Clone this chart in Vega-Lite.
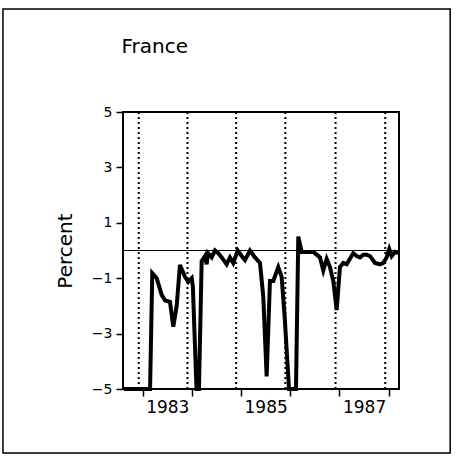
{
  "$schema": "https://vega.github.io/schema/vega-lite/v6.json",
  "width": 276,
  "height": 277,
  "autosize": {"type": "none"},
  "padding": {"left": 123, "top": 112, "right": 58, "bottom": 69},
  "background": "white",
  "datasets": {
    "series": [
      {"t": 1982.62, "v": -5}, {"t": 1983.15, "v": -5}, {"t": 1983.195, "v": -0.82}, {"t": 1983.285, "v": -1.0},
      {"t": 1983.386, "v": -1.6}, {"t": 1983.453, "v": -1.8}, {"t": 1983.555, "v": -1.85}, {"t": 1983.622, "v": -2.75},
      {"t": 1983.691, "v": -2.0}, {"t": 1983.758, "v": -0.52}, {"t": 1983.86, "v": -0.95}, {"t": 1983.927, "v": -1.13},
      {"t": 1983.996, "v": -1.0}, {"t": 1984.02, "v": -1.3}, {"t": 1984.094, "v": -5}, {"t": 1984.144, "v": -5},
      {"t": 1984.199, "v": -0.38}, {"t": 1984.266, "v": -0.2}, {"t": 1984.3, "v": -0.5}, {"t": 1984.327, "v": -0.1},
      {"t": 1984.402, "v": -0.25}, {"t": 1984.47, "v": 0.0}, {"t": 1984.537, "v": -0.1}, {"t": 1984.606, "v": -0.25},
      {"t": 1984.707, "v": -0.5}, {"t": 1984.774, "v": -0.25}, {"t": 1984.841, "v": -0.45}, {"t": 1984.931, "v": 0.0},
      {"t": 1985.012, "v": -0.2}, {"t": 1985.079, "v": -0.35}, {"t": 1985.181, "v": 0.0}, {"t": 1985.283, "v": -0.25},
      {"t": 1985.384, "v": -0.45}, {"t": 1985.451, "v": -1.65}, {"t": 1985.52, "v": -4.55}, {"t": 1985.587, "v": -1.1},
      {"t": 1985.654, "v": -1.1}, {"t": 1985.756, "v": -0.6}, {"t": 1985.825, "v": -0.95}, {"t": 1985.89, "v": -2.5},
      {"t": 1985.974, "v": -5}, {"t": 1986.116, "v": -5}, {"t": 1986.163, "v": 0.5}, {"t": 1986.232, "v": -0.05},
      {"t": 1986.333, "v": -0.05}, {"t": 1986.467, "v": -0.05}, {"t": 1986.537, "v": -0.15}, {"t": 1986.604, "v": -0.25},
      {"t": 1986.671, "v": -0.72}, {"t": 1986.74, "v": -0.3}, {"t": 1986.807, "v": -0.6}, {"t": 1986.874, "v": -1.1},
      {"t": 1986.943, "v": -2.15}, {"t": 1987.01, "v": -0.6}, {"t": 1987.077, "v": -0.45}, {"t": 1987.146, "v": -0.5},
      {"t": 1987.213, "v": -0.3}, {"t": 1987.28, "v": -0.1}, {"t": 1987.35, "v": -0.2}, {"t": 1987.417, "v": -0.25},
      {"t": 1987.484, "v": -0.15}, {"t": 1987.553, "v": -0.15}, {"t": 1987.62, "v": -0.2}, {"t": 1987.722, "v": -0.45},
      {"t": 1987.823, "v": -0.5}, {"t": 1987.89, "v": -0.45}, {"t": 1987.959, "v": -0.25}, {"t": 1988.012, "v": 0.05},
      {"t": 1988.061, "v": -0.2}, {"t": 1988.128, "v": -0.05}, {"t": 1988.195, "v": -0.1}
    ],
    "markers": [
      {"t": 1982.92}, {"t": 1983.91}, {"t": 1984.9}, {"t": 1985.9}, {"t": 1986.92}, {"t": 1987.93}
    ]
  },
  "layer": [
    {
      "data": {"values": [{}]},
      "mark": {"type": "rect", "fill": null, "filled": false, "stroke": "black", "strokeWidth": 1.5, "clip": false},
      "encoding": {
        "x": {"datum": 1980.16, "type": "quantitative"},
        "x2": {"datum": 1989.25},
        "y": {"datum": 8.72, "type": "quantitative"},
        "y2": {"datum": -7.31}
      }
    },
    {
      "data": {"values": [{"label": "France"}]},
      "mark": {"type": "text", "align": "left", "baseline": "alphabetic", "font": "DejaVu Sans", "fontSize": 20, "color": "black", "clip": false},
      "encoding": {
        "x": {"datum": 1982.57, "type": "quantitative"},
        "y": {"datum": 7.13, "type": "quantitative"},
        "text": {"field": "label", "type": "nominal"}
      }
    },
    {
      "data": {"values": [{}]},
      "mark": {"type": "rule", "stroke": "black", "strokeWidth": 1.2},
      "encoding": {"y": {"datum": 0, "type": "quantitative"}}
    },
    {
      "data": {"name": "markers"},
      "mark": {"type": "rule", "stroke": "black", "strokeWidth": 2, "strokeDash": [2, 3]},
      "encoding": {"x": {"field": "t", "type": "quantitative"}}
    },
    {
      "data": {"name": "series"},
      "mark": {"type": "line", "stroke": "black", "strokeWidth": 4, "strokeJoin": "miter", "clip": false},
      "encoding": {
        "x": {
          "field": "t", "type": "quantitative",
          "scale": {"domain": [1982.6, 1988.21], "nice": false, "zero": false},
          "axis": {
            "title": null, "grid": false, "domain": false,
            "values": [1983, 1984, 1985, 1986, 1987, 1988],
            "labelExpr": "datum.value % 2 == 1 && datum.value < 1988 ? toString(datum.value) : ''",
            "labelOffset": 24.6,
            "tickSize": 7, "tickWidth": 1.5, "tickColor": "black",
            "labelFont": "DejaVu Sans", "labelFontSize": 17, "labelColor": "black",
            "labelPadding": 3, "labelOverlap": false, "labelFlush": false, "labelBound": false
          }
        },
        "y": {
          "field": "v", "type": "quantitative",
          "scale": {"domain": [-5, 5], "nice": false, "zero": false},
          "axis": {
            "title": "Percent", "grid": false, "domain": false,
            "values": [-5, -3, -1, 1, 3, 5],
            "tickSize": 7, "tickWidth": 1.5, "tickColor": "black",
            "labelFont": "DejaVu Sans", "labelFontSize": 14, "labelColor": "black", "labelPadding": 4,
            "titleFont": "DejaVu Sans", "titleFontSize": 20, "titleFontWeight": "normal", "titleColor": "black", "titlePadding": 16
          }
        }
      }
    }
  ],
  "config": {
    "view": {"stroke": "black", "strokeWidth": 2}
  }
}
